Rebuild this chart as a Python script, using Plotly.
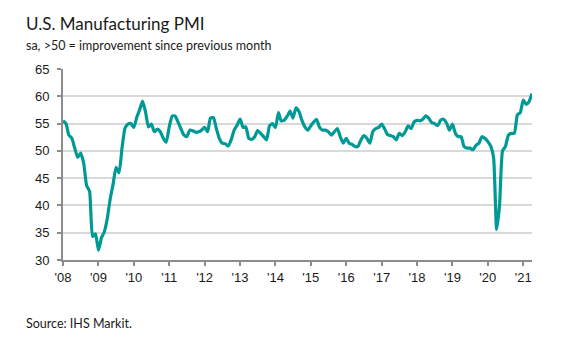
import pandas as pd
import plotly.graph_objects as go

# Monthly PMI values, Jan 2008 .. Apr 2021
pmi = [
    # 2008
    55.5, 55.0, 52.9, 52.3, 50.5, 48.8, 49.6, 47.8, 43.6, 42.6, 34.3, 34.8,
    # 2009
    31.8, 34.1, 35.1, 37.5, 41.1, 43.9, 47.0, 46.0, 50.5, 54.1, 54.9, 55.0,
    # 2010
    54.3, 56.2, 57.5, 59.1, 57.2, 54.4, 54.9, 53.5, 54.0, 53.5, 52.3, 51.6,
    # 2011
    54.4, 56.4, 56.4, 55.3, 54.1, 52.9, 52.6, 53.8, 53.7, 53.4, 53.5, 53.8,
    # 2012
    54.3, 53.5, 56.0, 56.1, 54.1, 52.3, 51.4, 51.3, 50.9, 52.0, 53.8, 54.7,
    # 2013
    55.8, 54.3, 54.4, 52.3, 52.1, 52.6, 53.7, 53.2, 52.6, 52.0, 54.6, 55.0,
    # 2014
    54.3, 57.0, 55.5, 55.6, 56.3, 57.3, 56.0, 57.9, 57.2, 55.6, 54.4, 53.8,
    # 2015
    54.6, 55.3, 55.8, 54.3, 53.8, 53.8, 53.5, 52.9, 53.5, 54.1, 52.6, 51.4,
    # 2016
    52.3, 51.4, 51.2, 50.8, 50.8, 52.0, 52.8, 52.3, 51.4, 53.5, 54.1, 54.3,
    # 2017
    54.9, 54.0, 53.0, 52.8, 52.6, 52.0, 53.2, 52.8, 53.5, 54.6, 54.1, 55.3,
    # 2018
    55.6, 55.5, 55.8, 56.4, 56.0, 55.2, 55.0, 54.6, 55.6, 55.8, 55.1, 53.8,
    # 2019
    54.9, 53.2, 52.6, 52.6, 50.8, 50.5, 50.5, 50.2, 51.0, 51.4, 52.6, 52.3,
    # 2020
    51.7, 50.8, 48.7, 35.6, 40.0, 50.0, 50.8, 52.9, 53.2, 53.2, 56.6, 57.0,
    # 2021
    59.3, 58.5, 59.0, 60.5,
]
months = pd.date_range("2008-01-01", periods=len(pmi), freq="MS")

y_ticks = [30, 35, 40, 45, 50, 55, 60, 65]
x_tick_years = list(range(2008, 2022))
x_tick_vals = [pd.Timestamp(f"{y}-01-01") for y in x_tick_years]
x_tick_text = ["'" + str(y)[2:] for y in x_tick_years]

title_text = "U.S. Manufacturing PMI"
subtitle_text = "sa, >50 = improvement since previous month"
source_text = "Source: IHS Markit."

LINE = "#009a96"
AXIS = "#8c8c8c"
GRID = "#d9d9d9"
TXT = "#1a1a1a"

fig = go.Figure()
fig.add_trace(go.Scatter(
    x=months, y=pmi, mode="lines",
    line=dict(color=LINE, width=3.2, shape="spline", smoothing=0.5),
    hoverinfo="x+y", showlegend=False,
))

L, R, T, B = 63, 39, 69, 90
W, H = 571, 350
pw, ph = W - L - R, H - T - B

def px(xp):
    return (xp - L) / pw

def py(yp):
    return (H - B - yp) / ph

fig.update_layout(
    width=W, height=H,
    margin=dict(l=L, r=R, t=T, b=B, pad=0),
    paper_bgcolor="white", plot_bgcolor="white",
    xaxis=dict(
        range=[months[0], months[-1]],
        tickvals=x_tick_vals, ticktext=x_tick_text,
        showgrid=False, zeroline=False,
        showline=True, linecolor=AXIS, linewidth=2,
        ticks="outside", ticklen=4, tickwidth=2, tickcolor=AXIS,
        tickfont=dict(family="Liberation Sans, Arial, sans-serif", size=13, color=TXT),
        fixedrange=True,
    ),
    yaxis=dict(
        range=[30, 65], tickvals=y_ticks,
        showgrid=True, gridcolor=GRID, gridwidth=2,
        zeroline=False,
        showline=True, linecolor=AXIS, linewidth=2,
        ticks="outside", ticklen=4, tickwidth=2, tickcolor=AXIS,
        tickfont=dict(family="Liberation Sans, Arial, sans-serif", size=13, color=TXT),
        ticklabelstandoff=5,
        fixedrange=True,
    ),
    annotations=[
        dict(text=title_text, x=px(24), y=py(23), xref="paper", yref="paper",
             xanchor="left", yanchor="middle", showarrow=False,
             font=dict(family="Lato, sans-serif", size=17, color=TXT)),
        dict(text=subtitle_text, x=px(24), y=py(45), xref="paper", yref="paper",
             xanchor="left", yanchor="middle", showarrow=False,
             font=dict(family="Lato, sans-serif", size=12.5, color=TXT)),
        dict(text=source_text, x=px(24), y=py(323), xref="paper", yref="paper",
             xanchor="left", yanchor="middle", showarrow=False,
             font=dict(family="Lato, sans-serif", size=12.5, color=TXT)),
    ],
)

fig.write_html("out.html")
